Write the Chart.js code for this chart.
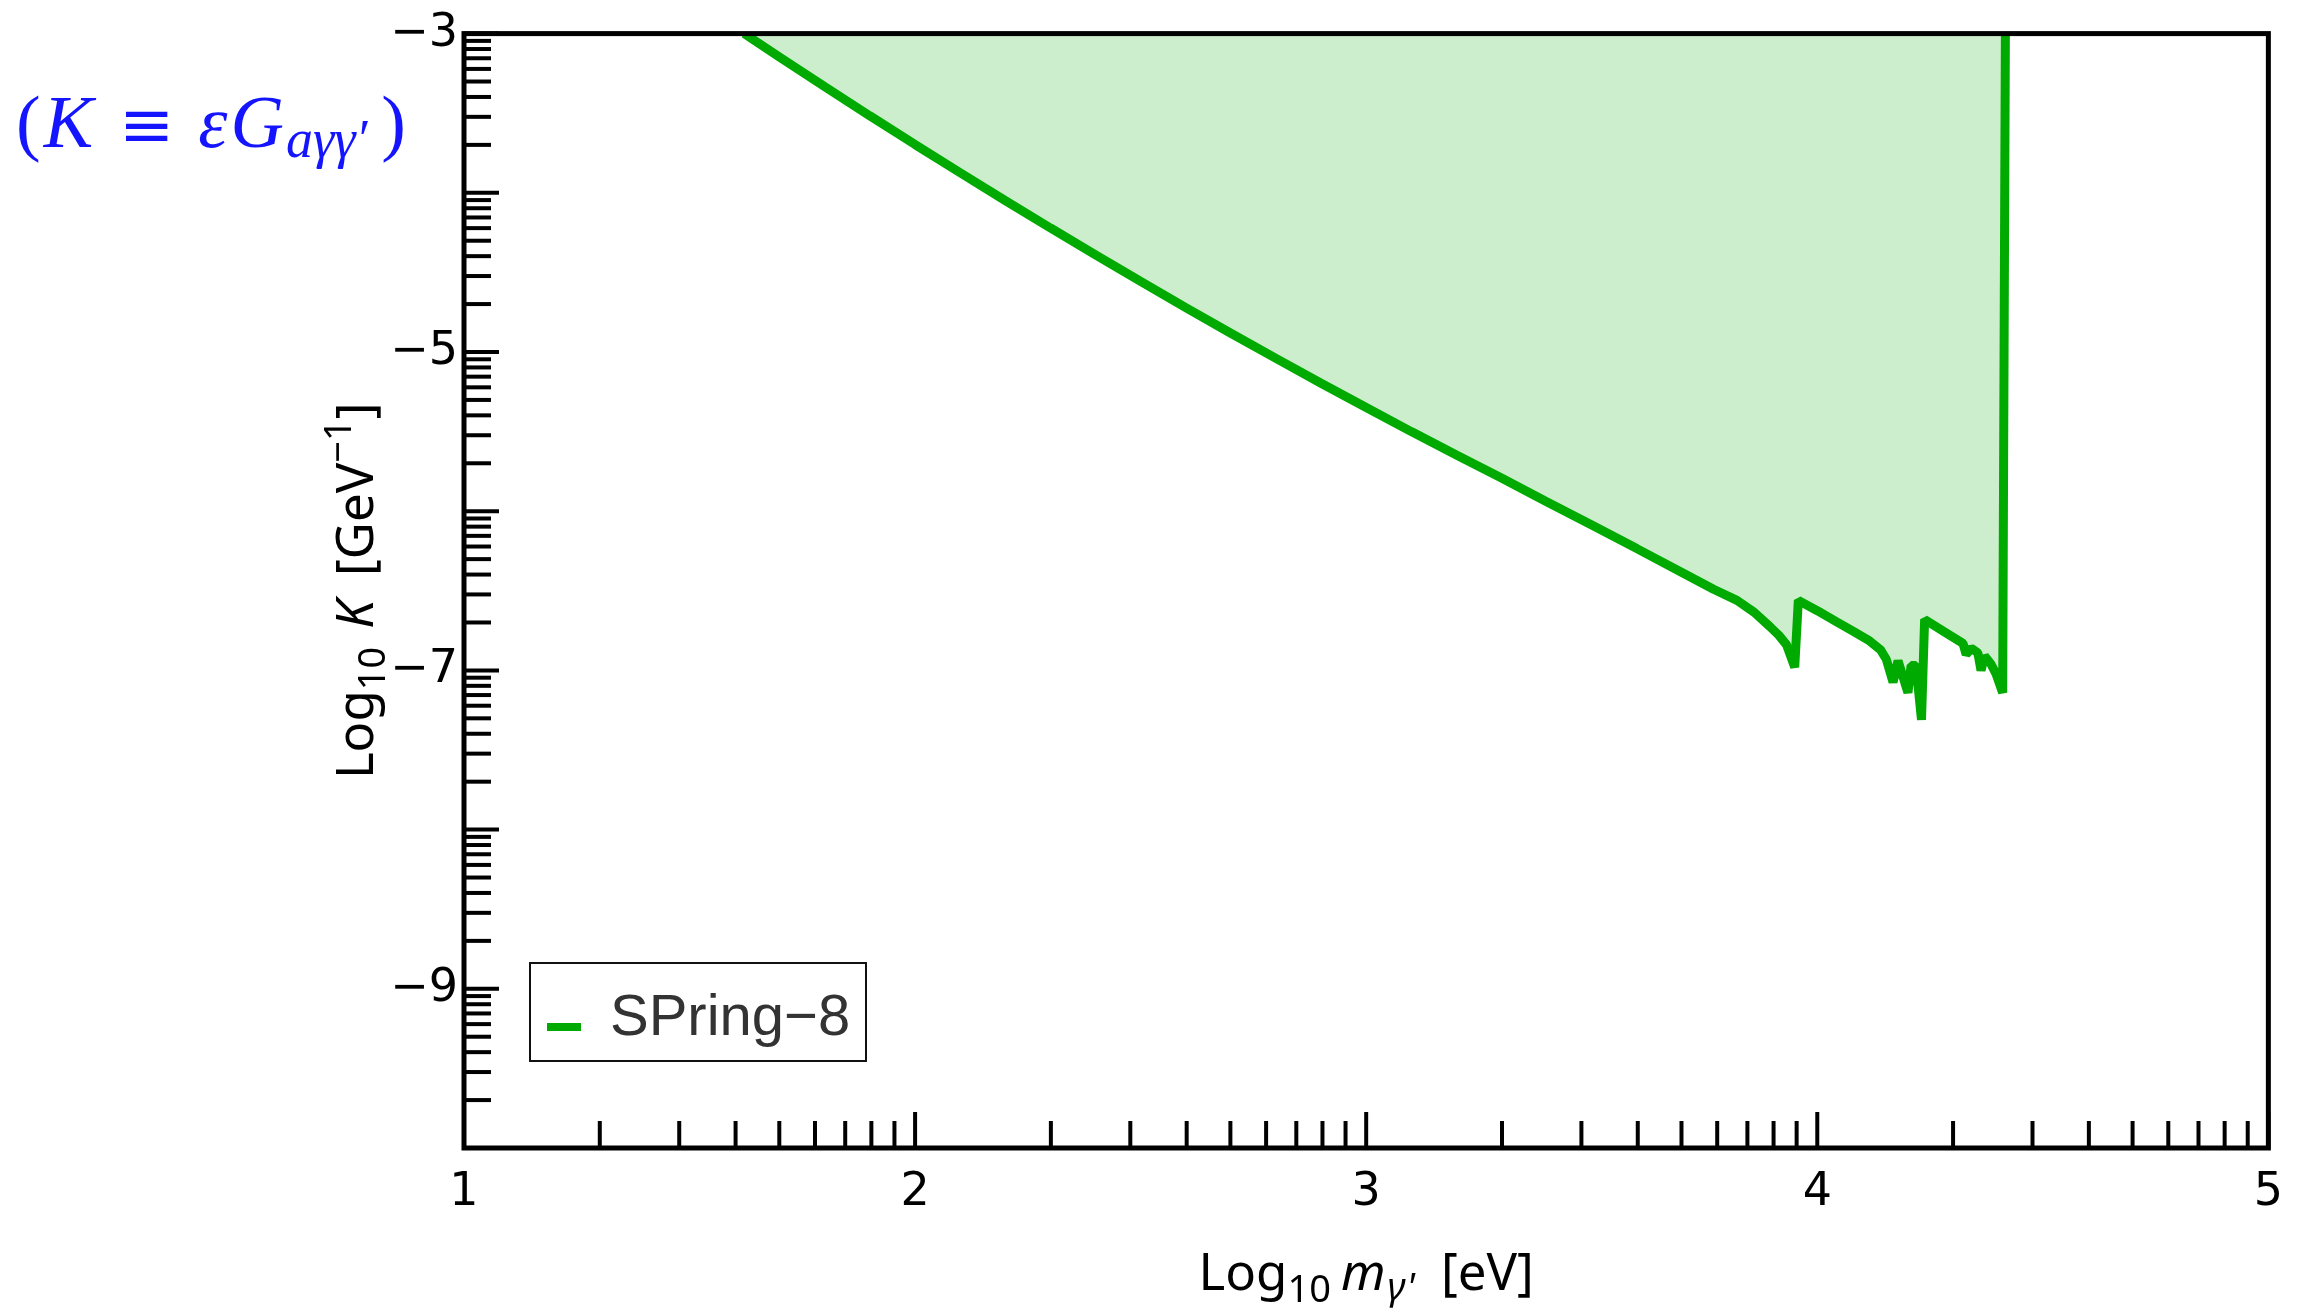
<!DOCTYPE html>
<html>
<head>
<meta charset="utf-8">
<script src="https://cdn.jsdelivr.net/npm/chart.js@4.4.1/dist/chart.umd.min.js"></script>
<style>
html,body{margin:0;padding:0;background:#ffffff;}
#wrap{width:2300px;height:1308px;position:relative;}
</style>
</head>
<body>
<div id="wrap"><canvas id="c" width="2300" height="1308"></canvas></div>
<script>
// ---- data ----
const seriesLabel = 'SPring\u22128';
const logMass = [1.621, 1.70, 1.80, 1.90, 2.00, 2.10, 2.20, 2.30, 2.40, 2.50, 2.60, 2.70, 2.80, 2.90,
                 3.00, 3.10, 3.20, 3.30, 3.40, 3.50, 3.60, 3.70, 3.77, 3.822, 3.86, 3.895, 3.915, 3.932,
                 3.950, 3.958, 4.000, 4.043, 4.080, 4.116, 4.140, 4.153, 4.168, 4.179, 4.201, 4.208,
                 4.219, 4.231, 4.238, 4.280, 4.323, 4.330, 4.341, 4.356, 4.363, 4.371, 4.385, 4.396,
                 4.411, 4.417];
const logK    = [-3.000, -3.148, -3.334, -3.517, -3.697, -3.874, -4.049, -4.221, -4.390, -4.557,
                 -4.721, -4.882, -5.040, -5.196, -5.349, -5.500, -5.647, -5.792, -5.940, -6.087,
                 -6.235, -6.385, -6.490, -6.560, -6.635, -6.725, -6.780, -6.840, -6.980, -6.560,
                 -6.625, -6.695, -6.755, -6.815, -6.870, -6.930, -7.075, -6.940, -7.140, -6.970,
                 -6.970, -7.310, -6.680, -6.755, -6.830, -6.900, -6.860, -6.890, -7.000, -6.910,
                 -6.960, -7.020, -7.140, -3.000];

const xRange = [1, 5];
const yRange = [-10, -3];
const xLabeledValues = [1, 2, 3, 4, 5];
const xTickLabels = ['1', '2', '3', '4', '5'];
const yLabeledValues = [-3, -5, -7, -9];
const yTickLabels = ['\u22123', '\u22125', '\u22127', '\u22129'];
const minorMultipliers = [2, 3, 4, 5, 6, 7, 8, 9];

const lineColor = '#00aa00';
const fillColor = 'rgba(0,170,0,0.2)';

// tick positions: integers plus log-spaced minor ticks inside each unit
function unitTicks(lo, hi) {
  const out = [];
  for (let n = lo; n < hi; n++) {
    out.push(n);
    minorMultipliers.forEach(k => out.push(n + Math.log10(k)));
  }
  out.push(hi);
  return out;
}
const xTickValues = unitTicks(xRange[0], xRange[1]);
const yTickValues = unitTicks(yRange[0], yRange[1]);

const isInt = v => Math.abs(v - Math.round(v)) < 1e-9;
function labelFor(values, labels, v) {
  const i = values.findIndex(m => Math.abs(m - v) < 1e-9);
  return i >= 0 ? labels[i] : '';
}

function drawRich(ctx, parts, x, y, align) {
  let w = 0;
  parts.forEach(p => { ctx.font = p.f; p.w = ctx.measureText(p.t).width + (p.gap || 0); w += p.w; });
  let cx = align === 'center' ? x - w / 2 : x;
  parts.forEach(p => { ctx.font = p.f; ctx.fillText(p.t, cx, y + (p.dy || 0)); cx += p.w; });
}

const decor = {
  id: 'decor',
  afterDatasetsDraw(chart) {
    const ctx = chart.ctx;
    const a = chart.chartArea;
    const xs = chart.scales.x, ys = chart.scales.y;
    ctx.save();
    // inward ticks
    ctx.strokeStyle = '#000';
    ctx.lineWidth = 4;
    ctx.lineCap = 'butt';
    xs.ticks.forEach(t => {
      const px = xs.getPixelForValue(t.value);
      const L = isInt(t.value) ? 36 : 27;
      ctx.beginPath(); ctx.moveTo(px, a.bottom); ctx.lineTo(px, a.bottom - L); ctx.stroke();
    });
    ys.ticks.forEach(t => {
      const py = ys.getPixelForValue(t.value);
      const L = isInt(t.value) ? 35 : 27;
      ctx.beginPath(); ctx.moveTo(a.left, py); ctx.lineTo(a.left + L, py); ctx.stroke();
    });
    // frame
    ctx.lineWidth = 5;
    ctx.strokeRect(a.left, a.top, a.right - a.left, a.bottom - a.top);

    // legend
    const ds = chart.data.datasets[0];
    const lx = a.left + 66, ly = a.bottom - 185, lw = 336, lh = 98;
    ctx.fillStyle = '#ffffff';
    ctx.fillRect(lx, ly, lw, lh);
    ctx.lineWidth = 2;
    ctx.strokeStyle = '#111';
    ctx.strokeRect(lx, ly, lw, lh);
    ctx.strokeStyle = ds.borderColor;
    ctx.lineWidth = 8;
    ctx.beginPath(); ctx.moveTo(lx + 17, ly + 64); ctx.lineTo(lx + 51, ly + 64); ctx.stroke();
    ctx.fillStyle = '#333333';
    ctx.font = '58px "Liberation Sans", Arial, sans-serif';
    ctx.textAlign = 'left';
    ctx.textBaseline = 'alphabetic';
    ctx.fillText(ds.label, lx + 80, ly + 72);

    // x axis title
    ctx.fillStyle = '#000';
    const big = '51px "Noto Sans", sans-serif';
    const bigI = 'italic 51px "Noto Sans", sans-serif';
    const sml = '38px "Noto Sans", sans-serif';
    const smlI = 'italic 38px "Noto Sans", sans-serif';
    drawRich(ctx, [
      {t: 'Log', f: big},
      {t: '10', f: sml, dy: 12, gap: 10},
      {t: 'm', f: bigI, gap: 2},
      {t: "\u03b3'", f: smlI, dy: 10, gap: 26},
      {t: '[eV]', f: big}
    ], (a.left + a.right) / 2, 1290, 'center');

    // y axis title (rotated)
    ctx.save();
    ctx.translate(373, (a.top + a.bottom) / 2);
    ctx.rotate(-Math.PI / 2);
    drawRich(ctx, [
      {t: 'Log', f: big},
      {t: '10', f: sml, dy: 12, gap: 18},
      {t: 'K', f: bigI, gap: 24},
      {t: '[GeV', f: big},
      {t: '\u22121', f: sml, dy: -22},
      {t: ']', f: big}
    ], 0, 0, 'center');
    ctx.restore();

    // blue annotation (K = eps G_{a gamma gamma'})
    ctx.fillStyle = '#1414ff';
    const serif = '74px "Liberation Serif", serif';
    const serifI = 'italic 74px "Liberation Serif", serif';
    const eqv = '66px "DejaVu Serif", serif';
    const subI = 'italic 54px "Liberation Serif", serif';
    drawRich(ctx, [
      {t: '(', f: serif, gap: 3},
      {t: 'K', f: serifI, gap: 26},
      {t: '\u2261', f: eqv, dy: 0, gap: 24},
      {t: '\u03b5', f: serifI, gap: 3},
      {t: 'G', f: serifI, gap: 2},
      {t: 'a\u03b3\u03b3\u2032', f: subI, dy: 10, gap: 14},
      {t: ')', f: serif}
    ], 16, 147, 'left');
    ctx.restore();
  }
};

const points = logMass.map((x, i) => ({x: x, y: logK[i]}));

new Chart(document.getElementById('c').getContext('2d'), {
  type: 'line',
  data: {
    datasets: [{
      label: seriesLabel,
      data: points,
      borderColor: lineColor,
      backgroundColor: fillColor,
      borderWidth: 9,
      borderJoinStyle: 'bevel',
      pointRadius: 0,
      tension: 0,
      fill: 'end'
    }]
  },
  options: {
    responsive: false,
    animation: false,
    devicePixelRatio: 1,
    layout: {padding: {left: 0, right: 27, top: 28, bottom: 0}},
    plugins: {legend: {display: false}, tooltip: {enabled: false}},
    scales: {
      x: {
        type: 'linear', min: xRange[0], max: xRange[1],
        afterBuildTicks: s => { s.ticks = xTickValues.map(v => ({value: v})); },
        afterFit: s => { s.height = 160; },
        grid: {display: false, drawTicks: false},
        border: {display: false},
        ticks: {
          autoSkip: false, maxRotation: 0, padding: 17, color: '#000',
          font: {family: '"DejaVu Sans", sans-serif', size: 46},
          callback: v => labelFor(xLabeledValues, xTickLabels, v)
        }
      },
      y: {
        type: 'linear', min: yRange[0], max: yRange[1],
        afterBuildTicks: s => { s.ticks = yTickValues.map(v => ({value: v})); },
        afterFit: s => { s.width = 464; },
        grid: {display: false, drawTicks: false},
        border: {display: false},
        ticks: {
          autoSkip: false, padding: 6, color: '#000',
          font: {family: '"DejaVu Sans", sans-serif', size: 46},
          callback: v => labelFor(yLabeledValues, yTickLabels, v)
        }
      }
    }
  },
  plugins: [decor]
});
</script>
</body>
</html>
